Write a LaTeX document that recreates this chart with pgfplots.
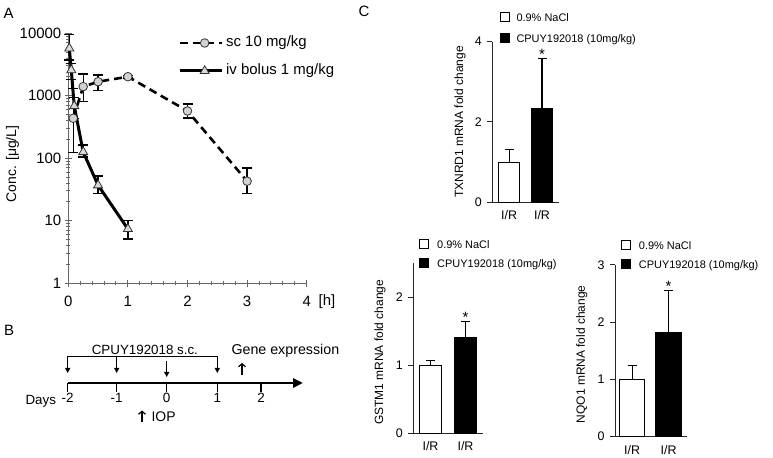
\documentclass[border=0pt]{standalone}
\usepackage{pgfplots}
\pgfplotsset{compat=1.18}
\usepackage{fontspec}
\setmainfont{Liberation Sans}
\usetikzlibrary{arrows.meta}
\newcommand{\fs}[1]{\fontsize{#1}{#1}\selectfont}
\pgfplotstableread{
x y ep em
0.083 437 880 314
0.25 1400 830 595
0.5 1680 470 480
1 2020 100 100
2 571 171 129
3 43 27 16
}\scdata
\pgfplotstableread{
x y ep em
0.017 5750 3750 2000
0.05 2580 740 740
0.1 686 250 250
0.25 126 37 21
0.5 37 15 10
1 7.4 2.6 2.3
}\ivdata
\pgfplotsset{
  cbar/.style={
    scale only axis, ybar, bar shift=0pt, ymin=0, clip=false,
    axis lines=left, axis line style={-, line width=1bp, black!85},
    xtick={1,2}, xticklabels={I/R,I/R}, x tick style={draw=none},
    tick align=outside, major tick length=5bp,
    y tick style={line width=1bp, black!85},
    tick label style={font=\fs{12.5}},
    yticklabel style={xshift=-2bp},
    /pgf/number format/assume math mode=true,
    ylabel style={font=\fs{12}},
    error bars/y dir=plus, error bars/y explicit,
    error bars/error bar style={line width=1.1bp, black},
    error bars/error mark options={rotate=90, mark size=4.5bp, line width=1.1bp, black},
    legend cell align=left,
    legend image code/.code={\draw[line width=1bp,##1] (0bp,-4.5bp) rectangle (9bp,4.5bp);},
    legend style={draw=none, fill=none, inner sep=0pt, anchor=north west, font=\fs{11},
      nodes={inner sep=0pt, text height=9bp, text depth=0pt}},
  }
}
\begin{document}
\begin{tikzpicture}[x=1bp,y=1bp]
\path[use as bounding box] (0,0) rectangle (773,458);
\node[font=\fs{15}] at (8.5,444.7) {A};
\node[font=\fs{15}] at (9,128) {B};
\node[font=\fs{15}] at (364,447) {C};

% ---------------- Panel A
\begin{axis}[
  at={(68.3bp,174.7bp)}, anchor=south west, scale only axis,
  width=238.4bp, height=250bp, clip=false,
  xmin=0, xmax=4, ymode=log, ymin=1, ymax=10000,
  axis lines=left, axis line style={-, line width=1.2bp, black!60},
  xtick={0,1,2,3,4}, xticklabels={0,1,2,3,4}, minor x tick num=4,
  ytick={1,10,100,1000,10000}, yticklabels={1,10,100,1000,10000},
  minor ytick={2,3,4,5,6,7,8,9,20,30,40,50,60,70,80,90,200,300,400,500,600,700,800,900,2000,3000,4000,5000,6000,7000,8000,9000},
  tick align=center, major tick length=7bp, minor tick length=4bp,
  tick style={line width=1bp, black!60},
  tick label style={font=\fs{15}},
  xticklabel style={yshift=-6bp},
  ylabel={Conc. [μg/L]},
  ylabel style={font=\fs{14}, at={(axis description cs:-0.234,0.477)}, anchor=center},
  legend style={at={(0.460,0.990)}, anchor=north west, draw=none, fill=none, inner sep=0pt,
    font=\fs{15}, row sep=14bp, column sep=3bp,
    nodes={inner sep=0pt, text height=11bp, text depth=3bp}},
  legend cell align=left,
  legend image code/.code={\draw[mark repeat=2,mark phase=2] plot coordinates {(0bp,0bp)(25bp,0bp)(42bp,0bp)};},
  error bars/y dir=both, error bars/y explicit,
  error bars/error bar style={line width=1.3bp, black, solid},
  error bars/error mark options={rotate=90, mark size=5bp, line width=1.3bp, black, solid},
]
\addplot[black, line width=2.6bp, dash pattern=on 8bp off 5bp, mark=*, mark size=4.3bp,
  mark options={solid, fill=gray!35, draw=black!80, line width=0.8bp}]
  table[x=x, y=y, y error plus=ep, y error minus=em] {\scdata};
\addlegendentry{sc 10 mg/kg}
\addplot[black, line width=3bp, mark=triangle*, mark size=5.2bp,
  mark options={solid, fill=gray!30, draw=black!80, line width=0.8bp}]
  table[x=x, y=y, y error plus=ep, y error minus=em] {\ivdata};
\addlegendentry{iv bolus 1 mg/kg}
\node[anchor=base west, font=\fs{15}] at (axis cs:4,1) [xshift=8.5bp, yshift=-22.7bp] {[h]};
\end{axis}

% ---------------- Panel B
\begin{axis}[
  at={(67.7bp,75bp)}, anchor=south west, scale only axis,
  width=235.3bp, height=43bp, clip=false,
  xmin=67.7, xmax=303, ymin=75, ymax=118,
  axis x line=bottom, axis y line=none,
  x axis line style={line width=2.6bp, black, -{Triangle[length=10bp,width=9bp]}},
  xtick={67.7,116.7,166.7,217.3,261}, xticklabels={-2,-1,0,1,2},
  tick align=outside, major tick length=9bp, x tick style={line width=1.2bp, black},
  extra x ticks={166.7}, extra x tick labels={},
  extra x tick style={major tick length=8bp, tick style={line width=4.5bp, black}},
  xticklabel style={font=\fs{13.5}, anchor=base, yshift=-11bp},
]
\draw[line width=1.2bp] (axis cs:67.7,101.3) -- (axis cs:217.3,101.3);
\draw[line width=1.2bp,-{Triangle[length=5bp,width=5bp]}] (axis cs:67.7,101.9) -- (axis cs:67.7,85);
\draw[line width=1.2bp,-{Triangle[length=5bp,width=5bp]}] (axis cs:116.7,101.3) -- (axis cs:116.7,85);
\draw[line width=1.2bp,-{Triangle[length=5bp,width=5bp]}] (axis cs:166.7,97) -- (axis cs:166.7,81);
\draw[line width=1.2bp,-{Triangle[length=5bp,width=5bp]}] (axis cs:217.3,101.9) -- (axis cs:217.3,85);
\node[anchor=base west, font=\fs{13.4}] at (axis cs:88.3,103) {CPUY192018 s.c.};
\node[anchor=base west, font=\fs{14.3}] at (axis cs:228,103) {Gene expression};
\draw[line width=1.2bp,-{Straight Barb[length=3bp,width=7bp]}] (axis cs:242,83) -- (axis cs:242,95);
\draw[line width=1.2bp,-{Straight Barb[length=3bp,width=7bp]}] (axis cs:142,36) -- (axis cs:142,47.5);
\node[anchor=base west, font=\fs{14}] at (axis cs:148,36.3) {IOP};
\node[anchor=base west, font=\fs{13.4}] at (axis cs:22,53.7) {Days};
\end{axis}

% ---------------- Panel C: TXNRD1
\begin{axis}[cbar,
  at={(492.3bp,255.7bp)}, anchor=south west,
  width=66.7bp, height=160.6bp,
  xmin=0.487, xmax=2.517, ymax=4, ytick={0,2,4},
  ylabel={TXNRD1 mRNA fold change},
  ylabel style={at={(axis description cs:-0.484,0.5)}, anchor=center},
  legend style={at={(0.105,1.187)}, row sep=11bp, column sep=7bp},
]
\addplot[fill=white, draw=black, line width=1.1bp, bar width=0.624] coordinates {(1,1.0) +- (0,0.32)};
\addlegendentry{0.9\% NaCl}
\addplot[fill=black, draw=black, line width=1.1bp, bar width=0.624] coordinates {(2,2.34) +- (0,1.25)};
\addlegendentry{CPUY192018 (10mg/kg)}
\node[anchor=base, font=\fs{15}] at (axis cs:2,3.59) [yshift=-1bp] {*};
\end{axis}

% ---------------- Panel C: GSTM1
\begin{axis}[cbar,
  at={(413.3bp,24.7bp)}, anchor=south west,
  width=69.7bp, height=170bp,
  xmin=0.509, xmax=2.5, ymax=2.5, ytick={0,1,2},
  ylabel={GSTM1 mRNA fold change},
  ylabel style={at={(axis description cs:-0.478,0.476)}, anchor=center},
  legend style={at={(0.079,1.144)}, row sep=9.4bp, column sep=8.2bp},
]
\addplot[fill=white, draw=black, line width=1.1bp, bar width=0.64] coordinates {(1,1.0) +- (0,0.07)};
\addlegendentry{0.9\% NaCl}
\addplot[fill=black, draw=black, line width=1.1bp, bar width=0.64] coordinates {(2,1.41) +- (0,0.24)};
\addlegendentry{CPUY192018 (10mg/kg)}
\node[anchor=base, font=\fs{15}] at (axis cs:2,1.65) [yshift=-1bp] {*};
\end{axis}

% ---------------- Panel C: NQO1
\begin{axis}[cbar,
  at={(615bp,21.3bp)}, anchor=south west,
  width=71.7bp, height=171.7bp,
  xmin=0.528, xmax=2.5, ymax=3, ytick={0,1,2,3},
  ylabel={NQO1 mRNA fold change},
  ylabel style={at={(axis description cs:-0.464,0.48)}, anchor=center},
  legend style={at={(0.077,1.148)}, row sep=9.4bp, column sep=8.2bp},
]
\addplot[fill=white, draw=black, line width=1.1bp, bar width=0.70] coordinates {(1,1.0) +- (0,0.24)};
\addlegendentry{0.9\% NaCl}
\addplot[fill=black, draw=black, line width=1.1bp, bar width=0.70] coordinates {(2,1.82) +- (0,0.73)};
\addlegendentry{CPUY192018 (10mg/kg)}
\node[anchor=base, font=\fs{15}] at (axis cs:2,2.55) [yshift=-1bp] {*};
\end{axis}
\end{tikzpicture}
\end{document}
